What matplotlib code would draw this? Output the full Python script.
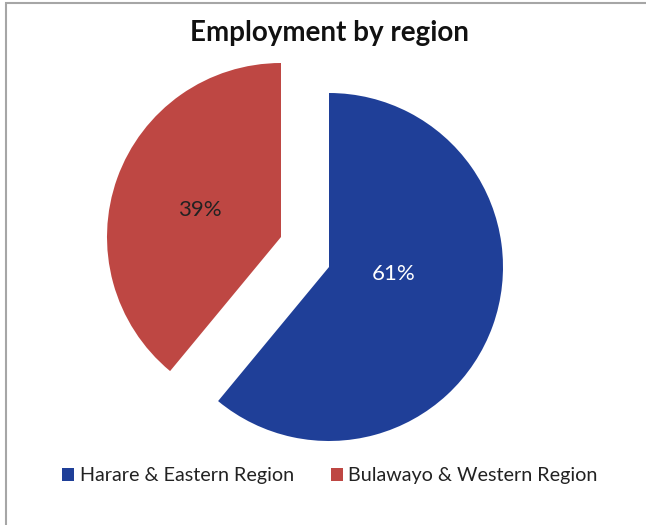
import matplotlib.pyplot as plt
from matplotlib.patches import Rectangle

regions = ["Harare & Eastern Region", "Bulawayo & Western Region"]
shares = [61, 39]
colors = ["#1f3f98", "#be4743"]

W, H = 646, 525
fig = plt.figure(figsize=(W / 100, H / 100), dpi=100)
ax = fig.add_axes([0, 0, 1, 1])
ax.set_xlim(0, W)
ax.set_ylim(0, H)
ax.set_aspect("equal")
ax.axis("off")

# slice centres in pixel space (y measured from top), each slice pulled apart
centres = [(329, 267), (281, 237)]
label_pos = [(394, 274), (200, 210)]
radius = 174

wedges, texts, autotexts = ax.pie(
    shares, colors=colors, startangle=90, counterclock=False,
    radius=radius, center=(0, 0), autopct="%d%%",
    textprops=dict(family="Lato", fontsize=16),
    wedgeprops=dict(linewidth=0), frame=True,
)
for w, (cx, cy) in zip(wedges, centres):
    w.set_center((cx, H - cy))
for t, (lx, ly), c in zip(autotexts, label_pos, ["white", "#222222"]):
    t.set_position((lx, H - ly))
    t.set_color(c)
ax.set_xlim(0, W)
ax.set_ylim(0, H)
ax.axis("off")

fig.text(329 / W, 1 - 33 / H, "Employment by region", ha="center", va="center",
         family="Lato", fontweight="bold", fontsize=20, color="#111111")

# legend
leg = fig.legend(wedges, regions, loc="center", bbox_to_anchor=(330 / W, 1 - 476 / H),
                 ncol=2, frameon=False, handlelength=0.6, handleheight=0.6,
                 handletextpad=0.28, columnspacing=1.9,
                 prop=dict(family="Lato", size=14.2))
for txt in leg.get_texts():
    txt.set_color("#222222")

# outer chart border
fig.patches.append(Rectangle((6 / W, -0.1), 1.2, 1 - 3 / H + 0.1,
                             transform=fig.transFigure, fill=False,
                             edgecolor="#a6a6a6", linewidth=1.5))

fig.savefig("out.png", dpi=100)
